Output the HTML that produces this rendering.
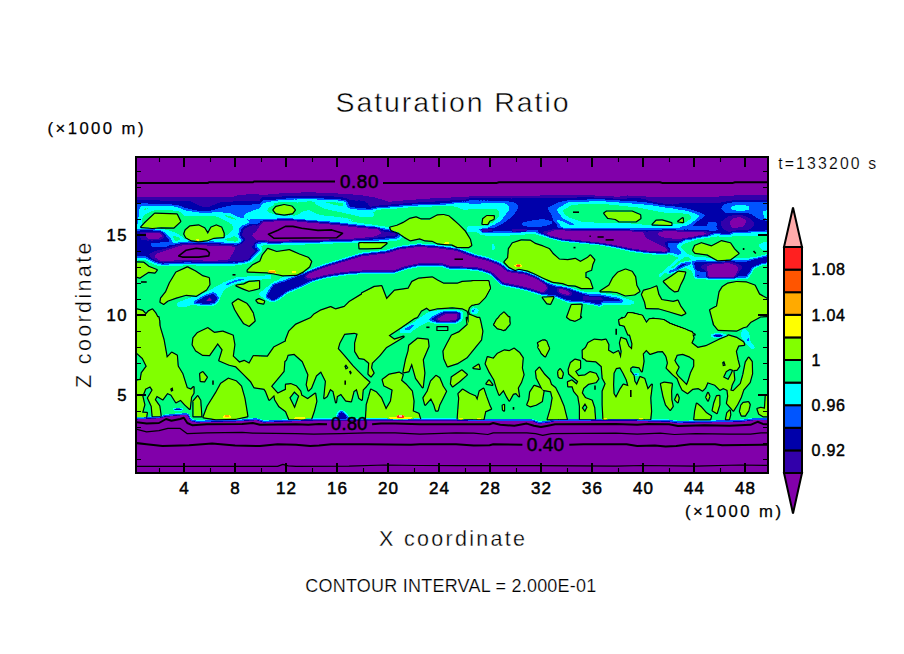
<!DOCTYPE html>
<html><head><meta charset="utf-8"><title>Saturation Ratio</title>
<style>
html,body{margin:0;padding:0;background:#fff;overflow:hidden}
svg{display:block}
text{font-family:"Liberation Sans",sans-serif;fill:#000}
</style></head><body>
<svg width="904" height="654" viewBox="0 0 904 654">
<defs>
<filter id="disc" filterUnits="userSpaceOnUse" x="100" y="120" width="700" height="390" color-interpolation-filters="sRGB"><feComponentTransfer><feFuncR type="discrete" tableValues="0.5098 0.1961 0.0000 0.0000 0.0000 0.0000 0.5098 1.0000 1.0000 1.0000 1.0000 1.0000"/><feFuncG type="discrete" tableValues="0.0000 0.0000 0.0000 0.3333 1.0000 1.0000 1.0000 1.0000 0.6667 0.3333 0.1255 0.6667"/><feFuncB type="discrete" tableValues="0.6667 0.6667 0.6667 1.0000 1.0000 0.5098 0.0000 0.0000 0.0000 0.0000 0.1255 0.6667"/></feComponentTransfer></filter>
<filter id="b07" filterUnits="userSpaceOnUse" x="60" y="80" width="780" height="470" color-interpolation-filters="sRGB"><feGaussianBlur stdDeviation="0.7"/></filter>
<filter id="b12" filterUnits="userSpaceOnUse" x="60" y="80" width="780" height="470" color-interpolation-filters="sRGB"><feGaussianBlur stdDeviation="1.2"/></filter>
<filter id="b05" filterUnits="userSpaceOnUse" x="60" y="80" width="780" height="470" color-interpolation-filters="sRGB"><feGaussianBlur stdDeviation="0.6"/></filter>
<filter id="b1" filterUnits="userSpaceOnUse" x="60" y="80" width="780" height="470" color-interpolation-filters="sRGB"><feGaussianBlur stdDeviation="1.0"/></filter>
<filter id="b15" filterUnits="userSpaceOnUse" x="60" y="80" width="780" height="470" color-interpolation-filters="sRGB"><feGaussianBlur stdDeviation="1.5"/></filter>
<filter id="b2" filterUnits="userSpaceOnUse" x="60" y="80" width="780" height="470" color-interpolation-filters="sRGB"><feGaussianBlur stdDeviation="2.0"/></filter>
<filter id="b3" filterUnits="userSpaceOnUse" x="60" y="80" width="780" height="470" color-interpolation-filters="sRGB"><feGaussianBlur stdDeviation="3.0"/></filter>
<filter id="b4" filterUnits="userSpaceOnUse" x="60" y="80" width="780" height="470" color-interpolation-filters="sRGB"><feGaussianBlur stdDeviation="4.0"/></filter>
<clipPath id="plot"><rect x="137" y="158" width="630" height="314"/></clipPath>
<clipPath id="oc"><polygon points="132.5,418.2 143.1,417.8 159.0,416.9 166.1,415.2 182.0,413.9 187.3,413.9 190.9,419.6 196.2,421.0 242.2,419.9 256.4,418.7 263.4,421.0 296.0,419.9 313.7,419.2 456.0,419.2 473.7,419.9 532.1,419.9 539.2,422.2 548.0,421.4 555.1,419.9 616.0,419.6 633.7,419.6 669.1,420.5 677.9,421.7 704.5,421.0 739.9,420.5 754.1,418.7 775.3,418.7 800,100 100,100"/></clipPath>
</defs>
<rect width="904" height="654" fill="#fff"/>
<defs><g id="yb">
<polygon points="141.3,227.0 144.8,223.2 154.8,213.8 176.8,214.5 180.2,221.4 173.6,227.6 161.1,227.3 152.3,227.9"/>
<polygon points="184.3,233.9 185.6,230.2 190.0,226.4 198.7,225.5 204.4,228.3 207.8,233.9 211.3,227.6 216.3,225.5 221.3,227.6 223.6,233.3 223.6,237.1 213.8,237.7 207.5,240.2 198.7,241.2 191.2,240.2 186.2,237.4"/>
<polygon points="273.5,210.1 276.0,206.9 284.1,205.1 291.7,206.6 294.8,210.1 292.3,213.2 284.1,214.5 276.0,213.2"/>
<polygon points="247.7,270.3 252.8,265.3 260.3,261.5 262.8,255.2 267.8,249.0 276.6,252.1 289.2,250.2 299.2,254.6 308.0,257.8 311.1,261.5 309.2,266.5 303.0,271.6 296.7,274.7 282.9,275.3 274.1,273.4 266.6,272.2 247.7,271.6"/>
<polygon points="359.4,244.0 363.2,243.3 363.2,247.7 360.0,247.1"/>
<polygon points="134.7,262.4 143.5,262.8 148.5,266.8 156.7,270.0 154.8,272.5 148.5,271.8 143.5,275.0 139.8,277.5 134.7,276.2"/>
<polygon points="160.5,302.0 161.1,298.2 166.1,291.9 169.9,283.1 176.2,272.5 187.4,267.4 195.0,271.2 202.5,276.2 208.8,278.1 209.4,284.4 206.3,289.4 196.2,295.7 186.2,294.7 176.2,297.6 167.4,300.7 163.6,303.8"/>
<polygon points="134.7,308.9 142.3,310.7 146.0,314.5 148.5,311.4 152.3,309.5 155.4,313.2 159.2,320.8 159.2,333.3 134.7,333.3"/>
<polygon points="236.5,285.6 244.0,284.4 249.0,281.9 259.0,281.2 259.0,288.2 249.0,290.7 244.0,288.8"/>
<polygon points="256.5,300.4 259.0,299.2 264.1,301.3 263.4,303.5 258.4,302.6"/>
<polygon points="232.7,303.2 238.0,299.4 246.5,303.8 249.0,307.0 252.8,313.2 254.6,320.8 249.0,325.8 244.0,323.3 239.0,315.8 235.2,309.5"/>
<polygon points="359.5,243.3 386.5,243.3 380.8,247.7 367.0,248.3 359.5,248.3"/>
<polygon points="390.2,227.6 391.5,230.2 398.4,232.7 404.7,237.1 410.3,240.2 419.7,238.3 424.7,240.2 432.3,240.8 437.3,243.3 443.6,244.0 452.3,244.6 457.4,247.1 468.6,247.1 471.2,245.2 469.9,239.6 464.9,231.4 458.6,225.1 452.3,219.5 448.6,216.3 443.6,215.1 437.3,215.5 429.8,219.5 421.0,219.5 416.0,217.4 409.7,218.9 403.4,222.9 397.1,225.8"/>
<polygon points="482.5,223.9 483.2,218.9 486.9,216.1 493.8,216.3 493.6,218.9 489.4,220.7 487.5,224.1"/>
<polygon points="504.5,262.1 508.2,257.8 508.9,249.0 512.6,243.3 521.4,240.4 530.2,240.8 535.2,244.0 542.8,246.5 549.0,249.0 552.8,254.0 559.1,259.6 567.8,260.3 575.4,259.0 580.4,262.1 587.9,257.8 590.4,255.5 594.2,259.9 592.3,264.3 591.1,269.9 587.9,270.9 585.4,272.2 585.4,277.8 587.9,278.5 589.8,280.6 592.3,288.1 587.9,288.1 581.6,288.1 575.4,285.6 567.8,285.0 562.8,283.1 552.8,281.8 542.8,277.5 535.2,273.7 527.7,270.6 518.9,268.7 515.2,269.9 508.9,266.8"/>
<polygon points="604.3,213.2 606.8,211.6 631.9,211.6 640.1,215.1 640.4,218.2 635.7,221.4 619.4,221.4 615.6,218.9 608.1,217.9"/>
<polygon points="652.6,224.5 656.4,220.7 662.0,220.5 671.4,223.2 671.4,224.9"/>
<polygon points="678.3,221.4 682.7,218.2 683.0,222.0"/>
<polygon points="693.2,250.2 695.1,245.8 701.4,243.3 711.4,246.5 721.4,241.2 730.2,243.3 734.0,249.0 738.4,253.4 730.2,259.6 717.7,260.3 707.6,254.6 695.1,252.7"/>
<polygon points="472.5,281.2 488.2,281.2 489.8,288.2 485.0,296.9 478.8,303.2 472.5,304.5"/>
<polygon points="472.5,317.6 478.8,320.8 481.3,333.3 472.5,333.3"/>
<polygon points="494.4,324.5 500.1,315.8 503.9,312.6 507.6,316.4 509.5,323.3 505.1,329.6 497.6,328.3"/>
<polygon points="542.8,297.6 553.4,297.3 550.3,303.8 547.1,303.2"/>
<polygon points="567.2,317.0 571.6,305.1 581.6,304.7 579.8,318.3 575.4,320.5 570.4,319.5"/>
<polygon points="600.5,291.3 609.3,285.6 613.1,278.1 618.1,272.5 625.6,269.6 631.9,271.8 635.1,276.9 636.3,285.6 639.4,291.3 634.4,294.4 625.6,295.4 616.9,291.9 609.3,291.3"/>
<polygon points="642.0,294.4 643.8,290.7 650.7,288.8 656.4,286.6 658.3,294.4 661.4,300.1 673.3,302.0 677.7,300.7 680.2,306.3 685.2,313.2 681.5,315.1 669.6,311.4 658.3,308.2 646.3,308.0 645.1,302.0"/>
<polygon points="663.9,281.6 670.8,276.9 678.3,271.8 685.2,272.5 683.4,278.1 680.2,284.4 677.7,290.7 674.6,291.3 669.6,287.5"/>
<polygon points="619.4,320.1 625.6,317.6 628.2,313.2 632.5,313.5 642.0,315.8 646.3,323.3 649.5,319.5 653.2,318.9 663.3,320.1 669.6,323.9 675.8,326.4 685.9,330.1 694.6,334.6 628.2,334.6 624.4,325.2 620.0,324.5"/>
<polygon points="710.2,310.1 717.1,306.3 719.6,291.9 722.7,286.9 727.7,283.8 736.5,282.1 746.5,282.5 754.7,285.6 759.1,294.4 770.4,300.7 770.4,315.8 760.3,316.4 750.3,322.0 746.5,326.4 743.3,327.2 736.7,330.5 718.3,329.7 714.2,324.7 712.5,318.8 713.9,324.5 712.7,319.5"/>
<polygon points="667.5,323.3 680.0,327.7 686.3,330.1 688.8,335.8 667.5,335.8"/>
<polygon points="134.3,317.2 158.5,317.2 159.3,325.5 163.5,339.7 166.8,358.0 171.8,352.7 176.8,355.5 177.7,366.3 182.3,373.8 186.8,388.0 191.0,389.7 193.5,387.2 193.5,393.0 191.0,397.2 189.7,408.8 185.2,404.7 180.7,399.7 176.0,402.2 171.3,394.7 167.3,393.0 162.7,399.3 156.8,395.7 154.7,399.7 159.3,406.3 160.7,416.3 152.7,416.3 151.8,406.3 148.0,398.0 152.7,390.0 150.2,386.3 145.2,388.8 142.3,396.3 144.3,404.7 141.8,413.8 134.3,416.3"/>
<polygon points="134.3,412.2 146.8,413.0 146.0,417.7 134.3,417.7"/>
<polygon points="200.2,373.8 202.7,372.2 206.8,377.2 204.3,381.3 200.7,381.0"/>
<polygon points="193.5,416.3 193.5,401.3 197.7,396.3 200.2,400.5 201.3,416.3"/>
<polygon points="203.5,417.2 207.7,406.3 216.0,393.0 221.0,383.8 228.5,378.8 236.0,381.3 241.0,386.3 244.3,398.0 246.0,408.0 247.3,416.3 236.0,418.7 216.0,419.3"/>
<polygon points="192.7,344.7 193.5,338.0 197.7,333.0 207.7,328.3 214.3,333.0 222.7,331.7 232.7,335.5 234.3,344.7 232.7,356.3 239.3,362.7 244.3,361.0 249.3,363.8 253.5,356.3 267.7,356.7 274.3,347.2 286.0,341.3 286.0,339.7 289.3,331.3 296.0,324.7 311.0,318.0 314.2,314.5 320.5,310.7 330.6,307.2 335.6,309.5 344.4,307.0 349.4,302.0 361.9,294.4 362.0,293.2 374.5,286.9 381.4,286.3 386.5,299.4 394.6,290.7 408.4,288.8 412.2,281.9 418.5,278.7 432.3,277.5 437.3,280.6 443.6,283.8 457.4,283.8 462.4,281.9 474.9,281.2 475.0,281.2 488.2,281.2 489.8,288.2 485.0,296.9 478.8,303.2 471.8,304.7 468.9,307.4 467.9,311.0 468.6,314.4 472.6,316.0 477.2,317.9 479.3,318.0 480.2,321.3 482.3,331.3 481.0,339.7 474.3,348.0 466.8,357.2 457.7,363.0 447.7,366.3 444.3,358.8 443.5,351.3 447.7,343.0 451.8,335.5 459.3,332.2 467.7,324.7 466.8,318.0 468.6,323.3 468.6,313.2 467.4,310.7 462.4,308.2 452.3,307.2 437.3,308.2 429.8,310.1 426.6,307.6 421.0,310.7 417.2,317.0 414.3,318.0 401.0,327.2 388.5,335.5 394.3,339.7 403.5,336.7 396.0,341.3 386.0,347.2 379.3,355.5 371.8,363.0 371.0,368.0 373.5,373.0 371.0,376.3 368.5,373.8 369.3,363.0 364.3,358.8 359.3,358.0 355.2,351.3 355.2,343.0 357.7,333.8 354.3,332.7 344.3,333.8 339.3,343.0 337.7,348.8 344.3,356.3 352.7,366.3 359.3,373.0 364.3,378.0 369.3,382.2 366.0,386.3 362.7,389.7 361.8,399.7 359.3,398.0 356.8,388.8 353.5,391.3 351.0,401.3 346.0,400.5 341.0,393.8 336.8,396.3 336.0,402.2 333.5,391.3 330.2,388.8 326.8,396.3 324.3,398.0 326.0,381.3 321.0,371.3 316.0,375.5 311.0,388.0 308.5,390.5 306.8,384.7 308.5,374.7 302.7,361.3 294.3,353.8 287.7,354.7 286.0,359.7 286.0,359.7 284.3,361.3 283.5,371.3 271.0,386.3 277.7,393.8 286.0,389.7 286.0,384.7 291.0,384.3 296.0,386.3 300.2,391.3 301.3,395.5 307.7,399.2 315.2,393.8 316.3,401.3 314.0,410.5 311.0,419.3 289.3,419.3 286.0,411.3 286.0,411.3 279.3,406.3 275.2,399.7 274.3,394.7 269.3,399.7 266.0,391.3 264.3,388.8 254.3,387.2 251.0,381.3 242.7,373.0 236.0,366.3 229.3,364.7 219.3,360.5 222.7,349.7 217.7,343.0 209.3,355.0 202.7,354.7 196.0,350.5"/>
<polygon points="409.3,345.5 417.7,338.8 427.7,339.7 428.5,346.3 422.7,359.7 424.3,373.0 422.7,387.2 416.0,378.0 411.8,363.0 408.5,371.3 403.5,372.2 406.0,359.7 408.5,351.3"/>
<polygon points="366.0,419.3 366.8,404.7 369.3,396.3 371.0,389.7 376.0,392.2 381.0,398.0 386.0,409.7 391.0,401.3 392.7,389.7 384.3,385.5 382.7,379.7 389.3,374.7 399.3,372.7 402.7,374.7 401.0,380.5 406.0,384.7 411.8,391.3 413.5,401.3 412.7,411.3 418.5,413.8 420.2,419.3"/>
<polygon points="431.0,381.3 436.0,376.0 439.3,378.0 442.7,386.3 446.0,391.3 442.7,398.0 439.3,404.7 437.7,410.5 436.0,410.5 434.3,404.7 431.0,398.0 425.2,404.7 423.5,398.0 427.7,391.3"/>
<polygon points="494.3,324.7 496.8,319.7 500.2,317.2 509.3,317.2 509.3,324.7 503.5,330.0 498.5,328.0"/>
<polygon points="451.0,383.8 451.8,377.2 461.8,370.5 466.8,374.7 459.3,381.3 452.7,386.3"/>
<polygon points="473.5,368.0 478.5,364.7 479.7,368.8"/>
<polygon points="486.5,383.8 489.0,380.5 492.3,384.7"/>
<polygon points="485.7,363.8 487.7,357.2 493.5,358.8 497.7,353.8 504.3,350.5 509.3,351.3 514.0,348.8 519.3,353.0 522.7,358.0 521.8,368.0 523.5,374.7 521.0,382.2 517.7,388.0 519.0,396.3 516.0,393.0 513.0,393.8 509.3,400.5 506.8,396.3 503.5,389.7 499.3,394.7 496.8,388.0 494.3,379.7 489.3,371.3"/>
<polygon points="457.7,419.3 458.5,408.0 459.3,398.0 458.5,393.8 462.7,389.7 469.3,393.8 475.2,396.3 477.3,400.5 479.7,391.3 483.5,388.8 486.0,396.3 489.7,406.3 491.0,408.8 485.2,411.3 483.5,419.3"/>
<polygon points="538.0,343.0 542.7,340.5 546.3,341.3 549.0,348.8 545.2,356.3 541.8,353.0"/>
<polygon points="527.3,404.7 529.3,399.7 530.2,392.2 534.3,386.0 540.2,388.0 543.5,391.3 541.8,401.3 536.0,404.7 530.2,406.3"/>
<polygon points="536.0,371.3 539.3,367.7 544.3,374.7 549.3,379.7 551.0,384.7 555.2,388.0 559.3,396.3 563.5,406.3 566.8,419.3 547.7,419.3 551.0,408.0 552.7,398.0 551.0,391.3 542.7,389.7 540.2,384.7 536.8,378.0"/>
<polygon points="558.5,371.3 560.2,369.3 562.7,373.0 561.8,377.7 559.3,377.2"/>
<polygon points="582.7,350.5 586.0,348.0 588.0,351.3 586.8,358.8 583.0,358.0"/>
<polygon points="567.7,317.2 574.3,320.5 581.0,317.2"/>
<polygon points="502.7,405.5 504.0,405.0 504.0,410.5 503.0,409.7"/>
<polygon points="568.7,369.7 570.8,363.0 575.0,359.7 580.0,361.0 580.0,368.0 575.0,371.3 578.3,376.3 585.0,375.5 590.0,372.2 595.8,373.8 598.3,378.8 595.8,382.2 588.3,383.8 583.3,388.0 581.7,393.0 585.0,398.0 591.7,400.5 594.2,408.0 595.0,419.3 580.0,419.3 580.0,406.3 578.3,396.3 574.2,391.3 572.5,386.3 568.3,386.3 568.0,382.2 571.7,380.5 576.7,384.7 578.3,381.3 573.3,377.2 569.2,373.8"/>
<polygon points="538.3,347.2 540.0,342.2 545.0,340.5 548.3,347.2 545.0,356.0 541.7,353.0"/>
<polygon points="558.3,373.0 560.0,369.7 562.5,374.7 560.8,377.7 558.7,376.7"/>
<polygon points="583.0,357.2 585.0,349.7 588.3,343.0 594.2,339.7 601.7,340.5 605.8,339.7 608.3,344.7 608.0,350.5 613.3,353.8 618.3,351.3 620.8,358.8 621.7,351.3 620.0,343.0 621.3,338.0 625.8,339.7 628.3,346.3 632.0,349.7 632.5,343.8 630.0,334.7 626.7,326.3 620.8,324.7 620.0,320.5 622.0,318.0 620.0,324.5 619.4,320.1 625.6,317.6 628.2,313.2 632.5,313.5 642.0,315.8 646.3,323.3 649.5,319.5 653.2,318.9 663.3,320.1 669.6,323.9 675.8,326.4 685.9,330.1 691.8,332.2 693.5,338.0 691.3,343.0 697.7,348.0 706.0,346.3 719.3,339.7 727.7,336.3 728.3,335.5 736.7,338.0 743.3,342.2 744.2,344.7 738.3,345.5 735.8,351.3 737.5,359.7 739.2,366.3 736.7,369.7 733.3,370.0 734.2,379.7 731.7,384.7 730.3,390.5 733.3,391.3 740.8,383.8 743.3,374.7 745.8,362.2 748.7,357.7 751.7,361.7 752.0,373.8 749.7,382.2 743.3,389.7 740.8,397.2 737.0,404.7 733.3,410.5 727.0,403.3 728.3,396.3 727.5,390.0 723.3,388.0 720.0,389.7 715.0,384.7 707.5,382.2 705.0,388.0 702.5,390.5 698.3,388.0 692.5,388.8 687.5,393.0 682.5,389.7 680.0,384.7 677.5,378.3 673.3,374.7 670.0,371.3 666.7,368.0 668.0,363.0 666.7,357.2 666.0,355.5 662.7,351.0 657.7,351.3 650.2,353.8 646.3,349.7 642.7,353.8 643.5,361.3 641.8,371.3 639.3,367.2 632.7,366.3 630.2,368.0 630.2,371.3 633.5,375.5 634.3,381.3 636.8,385.5 640.2,377.2 644.3,378.8 647.7,389.7 651.8,384.7 650.2,398.0 651.0,411.3 650.2,419.3 603.5,419.3 602.7,404.7 602.7,391.3 605.7,383.8 602.7,378.0 601.8,366.3 596.0,361.3 586.7,360.5"/>
<polygon points="661.0,383.8 664.3,382.7 671.8,383.8 671.0,391.3 671.3,399.7 672.7,406.3 670.2,409.7 666.0,404.7 663.5,396.3 661.8,388.0"/>
<polygon points="675.2,399.7 677.3,394.7 678.7,398.0 677.7,402.2"/>
<polygon points="694.3,419.3 695.2,411.3 696.8,403.8 701.0,407.2 706.0,413.0 711.0,416.3 710.2,419.3"/>
<polygon points="706.3,397.2 708.0,393.0 709.3,396.3 708.0,400.5"/>
<polygon points="712.7,410.5 714.3,403.0 716.8,396.3 719.3,396.0 719.3,404.7 716.8,413.0"/>
<polygon points="726.0,419.3 727.3,413.0 729.7,410.5 730.2,414.7 729.0,419.3"/>
<polygon points="740.0,411.3 741.3,405.5 743.3,403.0 748.3,402.2 749.7,404.7 748.3,410.5 745.0,415.5 741.7,415.5"/>
<polygon points="757.5,408.8 760.8,408.0 765.0,408.8 765.8,395.5 770.0,395.5 770.0,416.3 763.3,416.3 759.2,413.8"/>
</g><g id="yh">
<polygon points="134.3,350.5 142.7,358.0 146.8,366.3 141.8,373.0 140.7,380.0 134.3,381.0"/>
<polygon points="170.2,388.8 172.7,387.2 173.3,390.7 171.0,391.7"/>
<polygon points="289.3,397.7 294.3,391.3 299.3,396.0 294.7,408.8"/>
<polygon points="344.3,366.3 346.0,364.3 348.5,368.0 345.7,369.7"/>
<polygon points="349.0,371.3 350.7,370.5 351.8,373.0 350.2,374.7"/>
<polygon points="581.7,408.0 585.0,403.0 587.5,407.2 585.0,412.2"/>
<polygon points="613.5,373.0 616.0,368.0 620.2,367.2 623.5,373.0 626.8,379.7 628.5,386.3 623.5,384.7 620.2,389.7 616.0,398.0 613.5,393.8 613.0,384.7"/>
<polygon points="674.3,360.5 676.8,354.7 682.7,353.8 689.3,356.3 694.3,359.7 694.3,366.3 691.0,373.0 688.5,381.3 686.8,385.5 682.7,381.3 677.7,376.3 675.7,373.0 678.5,367.2 676.0,363.8"/>
<polygon points="723.0,377.2 725.8,371.3 730.0,368.8 733.3,370.0 731.7,373.8 728.3,380.0"/>
<polygon points="722.2,362.2 724.2,361.0 725.8,365.5 722.8,366.3"/>
</g>
<mask id="om" maskUnits="userSpaceOnUse" x="100" y="120" width="700" height="390"><rect x="100" y="120" width="700" height="390" fill="#fff"/><use href="#yb" fill="#000"/><use href="#yh" fill="#fff"/></mask>
</defs>
<g clip-path="url(#plot)">
<g filter="url(#disc)">
<rect x="100" y="120" width="700" height="390" fill="#757575"/>
<g filter="url(#b3)">
<polygon points="100,120 800,120 800.0,201.1 767.0,201.1 745.0,200.5 720.0,202.5 695.0,204.3 663.0,203.7 626.0,201.8 588.0,199.9 530.0,200.7 475.0,201.1 437.0,202.8 412.0,204.5 387.0,206.5 375.0,203.5 362.0,200.8 336.0,198.0 311.0,197.0 286.0,197.5 261.0,200.0 236.0,202.5 198.0,205.0 136.0,202.5 100.0,202.5" fill="#0b0b0b"/>
</g>
<g filter="url(#b12)">
<polygon points="100,120 800,120 800.0,202.1 767.0,202.1 745.0,201.5 720.0,203.5 695.0,205.3 663.0,204.7 626.0,202.8 588.0,200.9 530.0,201.7 475.0,202.1 437.0,203.8 412.0,205.5 387.0,207.5 375.0,204.5 362.0,201.8 336.0,199.0 311.0,198.0 286.0,198.5 261.0,201.0 236.0,203.5 198.0,206.0 136.0,203.5 100.0,203.5" fill="#353535"/>
<polygon points="100,120 800,120 800.0,199.6 767.0,199.6 745.0,199.0 720.0,201.0 695.0,202.8 663.0,202.2 626.0,200.3 588.0,198.4 530.0,199.2 475.0,199.6 437.0,201.3 412.0,203.0 387.0,205.0 375.0,202.0 362.0,199.3 336.0,196.5 311.0,195.5 286.0,196.0 261.0,198.5 236.0,201.0 198.0,203.5 136.0,201.0 100.0,201.0" fill="#202020"/>
<polygon points="100,120 800,120 800.0,196.4 767.0,196.4 745.0,195.8 720.0,197.8 695.0,199.6 663.0,199.0 626.0,197.1 588.0,195.2 530.0,196.0 475.0,196.4 437.0,198.1 412.0,199.8 387.0,201.8 375.0,198.8 362.0,196.1 336.0,193.3 311.0,192.3 286.0,192.8 261.0,195.3 236.0,197.8 198.0,200.3 136.0,197.8 100.0,197.8" fill="#0b0b0b"/>
</g>
<g filter="url(#b2)">
<polygon points="131.0,203.8 142.3,204.4 139.8,212.6 141.6,221.4 139.8,227.6 131.0,227.6" fill="#4a4a4a"/>
<polygon points="236.5,196.3 261.5,195.6 256.5,199.4 249.0,202.5 236.5,203.8" fill="#353535"/>
<polygon points="236.5,202.5 249.0,202.5 264.1,198.8 274.1,198.8 256.5,206.3 249.0,210.7 236.5,211.3" fill="#4a4a4a"/>
<polygon points="346.9,195.0 374.5,197.5 388.3,201.9 380.8,206.3 369.5,210.1 346.9,211.3" fill="#202020"/>
<polygon points="346.9,200.0 364.5,200.7 370.2,205.1 367.0,208.8 346.9,210.1" fill="#353535"/>
<polygon points="468.7,198.8 512.6,198.8 556.6,198.2 594.2,196.9 594.2,200.0 562.8,201.3 552.8,208.8 555.3,220.1 562.8,227.6 545.3,231.4 527.7,232.0 512.6,233.3 481.3,233.3 477.5,229.5 493.8,225.1 511.4,215.1 517.7,205.1 506.4,201.9 468.7,202.5" fill="#353535"/>
<polygon points="619.4,196.9 650.7,197.5 707.2,197.5 707.2,212.0 688.4,210.1 668.3,208.8 647.0,208.8 635.7,203.8" fill="#353535"/>
<polygon points="642.0,197.8 707.2,197.8 707.2,207.6 675.8,204.8 658.3,207.8 650.7,203.2" fill="#202020"/>
<polygon points="677.5,198.8 770.4,195.0 770.4,232.7 745.3,232.7 720.2,231.4 711.4,228.3 682.5,228.3 677.5,215.1" fill="#353535"/>
<polygon points="663.7,198.8 722.7,196.9 770.4,195.6 770.4,201.9 732.7,201.9 707.6,203.2 663.7,202.5" fill="#202020"/>
<polygon points="139.8,212.6 154.8,206.9 179.9,207.6 187.4,213.8 216.3,214.5 240.1,221.4 248.3,225.8 237.6,235.2 223.8,239.2 206.3,242.7 186.2,241.4 172.4,233.9 161.1,229.9 139.8,229.9 137.3,221.4" fill="#606060"/>
<polygon points="357.0,211.3 387.1,208.8 412.2,206.6 449.8,207.6 462.4,210.1 487.5,212.0 487.5,230.2 474.9,227.6 449.8,225.1 399.6,220.1 362.0,218.9 354.5,215.1" fill="#757575"/>
<polygon points="131.0,230.2 151.1,229.5 168.6,235.2 173.6,242.7 161.1,249.0 151.1,257.8 131.0,258.4" fill="#353535"/>
<polygon points="146.0,255.2 177.4,243.3 213.8,242.7 248.9,245.2 261.5,249.0 248.9,260.3 231.4,263.4 186.2,262.8 161.1,264.0 149.8,260.3" fill="#202020"/>
<polygon points="241.5,227.6 256.5,220.1 286.6,218.2 311.7,220.7 336.8,222.9 374.5,227.6 399.6,231.4 399.6,237.7 374.5,240.2 336.8,240.8 311.7,241.7 274.1,242.7 249.0,242.7 239.0,237.7" fill="#202020"/>
</g>
<g filter="url(#b15)">
<polygon points="129.7,197.5 261.5,197.5 261.5,225.1 255.2,224.5 242.6,219.9 230.1,214.2 217.6,213.0 206.3,213.6 186.2,211.6 173.6,205.1 129.7,205.3" fill="#4a4a4a"/>
<polygon points="129.7,197.5 261.5,197.5 261.5,204.1 230.1,205.4 217.6,208.6 206.3,212.3 198.7,211.6 186.2,208.2 173.6,203.6 129.7,202.5" fill="#353535"/>
<polygon points="129.7,196.9 261.5,196.9 261.5,200.7 231.4,201.5 221.3,201.9 213.8,204.8 206.3,207.8 198.7,205.3 190.0,201.0 173.6,200.8 129.7,200.3" fill="#202020"/>
<polygon points="518.9,223.6 529.0,220.7 542.8,219.1 554.0,221.4 550.3,225.1 537.7,227.4 525.2,226.6" fill="#4a4a4a"/>
<polygon points="720.2,208.8 724.0,203.8 735.2,201.3 770.4,201.3 770.4,221.4 760.3,220.1 750.3,213.8 740.3,212.6 726.5,213.8" fill="#4a4a4a"/>
<polygon points="720.2,222.6 729.0,215.7 740.3,214.5 750.3,218.2 755.3,225.1 747.8,230.8 730.2,231.4 722.7,228.9" fill="#202020"/>
<polygon points="707.6,221.4 717.7,221.4 716.4,227.6 707.6,228.3" fill="#4a4a4a"/>
<polygon points="143.5,215.1 154.8,210.1 178.7,210.7 184.9,216.3 216.3,216.6 230.1,222.9 234.5,227.6 228.2,234.5 222.6,237.1 206.3,240.4 186.2,239.2 174.9,232.0 161.1,228.3 143.5,228.3 141.0,221.4" fill="#757575"/>
<polygon points="246.5,213.2 267.8,205.1 299.2,200.7 324.3,203.2 355.6,208.8 374.5,212.6 374.5,221.4 324.3,219.5 286.6,218.2 249.0,219.5 241.5,217.0" fill="#606060"/>
<polygon points="266.6,208.8 280.4,203.2 311.7,202.5 324.3,208.8 341.8,212.6 361.9,217.0 374.5,217.0 374.5,221.4 343.1,217.4 319.3,215.1 309.2,210.1 303.0,211.6 296.7,215.5 280.4,215.5 267.8,212.6" fill="#757575"/>
<polygon points="449.8,202.5 487.5,202.5 487.5,210.1 462.4,209.4" fill="#606060"/>
<polygon points="467.5,200.0 506.4,200.7 516.4,203.8 512.6,212.6 503.9,222.6 488.8,229.5 467.5,231.4" fill="#4a4a4a"/>
<polygon points="467.5,203.8 506.4,203.2 510.1,208.8 500.1,221.4 487.5,227.6 467.5,228.9" fill="#606060"/>
<polygon points="467.5,208.8 497.6,208.8 500.1,215.1 493.8,222.6 482.5,226.4 467.5,226.4" fill="#757575"/>
<polygon points="546.5,207.6 565.3,200.7 600.5,198.8 650.7,202.5 688.3,208.8 707.1,215.1 688.3,227.6 650.7,228.9 600.5,227.6 570.4,226.4 555.3,218.9" fill="#4a4a4a"/>
<polygon points="555.9,209.4 567.8,202.5 600.5,201.0 650.7,205.1 688.3,211.1 700.8,215.7 688.3,225.8 650.7,227.0 600.5,225.8 575.4,224.5 562.8,218.2" fill="#606060"/>
<polygon points="561.6,210.7 572.9,204.4 600.5,203.6 638.1,207.6 663.2,212.6 688.3,213.8 692.7,217.6 683.3,223.9 650.7,225.8 625.6,222.9 600.5,222.9 581.6,222.0 567.8,217.0" fill="#757575"/>
<polygon points="138.5,231.4 161.1,231.2 165.5,235.8 159.8,240.2 141.0,240.2" fill="#202020"/>
<polygon points="149.8,242.4 169.9,242.1 168.6,246.5 151.1,247.1" fill="#4a4a4a"/>
<polygon points="154.8,254.0 179.9,245.2 188.7,243.7 211.3,245.2 231.4,245.8 240.1,247.7 242.6,250.2 231.4,255.2 228.8,260.3 211.3,261.5 186.2,260.3 161.1,261.8 154.8,257.8" fill="#0b0b0b"/>
<polygon points="236.4,246.5 243.9,240.2 249.6,231.4 256.5,227.6 256.5,242.7 251.4,249.0 248.9,260.3 236.4,262.1 231.4,255.2" fill="#202020"/>
<polygon points="257.8,294.4 270.3,284.4 284.1,276.2 299.2,275.0 303.0,280.6 286.6,291.9 274.1,301.3 267.8,300.7" fill="#606060"/>
<polygon points="535.2,232.0 555.3,228.3 587.9,228.9 644.4,229.9 675.8,229.5 707.1,230.2 732.2,231.4 732.2,240.2 688.3,240.2 673.2,245.2 670.7,252.7 650.7,252.7 631.8,250.2 600.5,243.3 562.8,240.2 550.3,237.1" fill="#202020"/>
<polygon points="690.1,261.2 713.9,259.9 735.2,258.7 750.3,261.8 770.4,256.2 770.4,263.7 752.8,268.1 750.3,273.7 720.2,275.0 701.4,273.7" fill="#353535"/>
<polygon points="664.8,242.6 677.2,241.8 679.0,247.1 684.3,254.2 677.2,255.9 671.0,253.3" fill="#4a4a4a"/>
<polygon points="692.6,262.1 707.6,259.6 740.3,260.3 750.3,265.3 747.8,277.8 695.1,277.8" fill="#353535"/>
<polygon points="677.5,246.5 685.1,238.3 707.6,234.2 770.4,233.3 770.4,260.3 745.3,260.3 720.2,262.1 695.1,260.3 685.1,254.0" fill="#606060"/>
<polygon points="683.8,246.5 690.1,240.2 710.2,236.7 770.4,235.8 770.4,257.8 745.3,257.8 720.2,259.6 697.6,257.8 690.1,252.7" fill="#757575"/>
<polygon points="583.0,291.9 600.5,292.5 619.4,296.3 637.6,302.6 629.4,305.1 606.8,304.5 583.0,303.8" fill="#606060"/>
</g>
<g filter="url(#b1)">
<ellipse cx="740.3" cy="207.9" rx="10" ry="3" fill="#606060"/>
<polygon points="762.8,210.7 770.4,210.1 770.4,219.5 764.1,218.2" fill="#606060"/>
<polygon points="729.0,223.2 732.7,218.2 740.3,217.0 746.5,220.7 744.0,226.4 732.7,228.3" fill="#0b0b0b"/>
<polygon points="144.8,233.3 159.8,232.7 163.0,235.8 158.6,238.9 147.3,238.7" fill="#0b0b0b"/>
<polygon points="256.5,231.4 261.5,222.0 286.6,219.9 311.7,222.2 336.8,224.5 361.9,227.4 378.2,228.3 382.0,233.3 374.5,236.7 349.4,239.8 311.7,240.8 274.1,241.4 256.5,240.2 251.5,235.2" fill="#0b0b0b"/>
<polyline points="267.8,296.3 274.1,285.6 286.6,281.9 299.2,276.6 308.0,273.1 324.3,266.8 361.9,255.5 387.1,252.4 399.6,248.6 418.5,246.1 437.3,247.4 456.1,249.9 475.0,256.8 487.5,259.9 500.1,264.9 507.6,271.2 525.2,273.7 535.2,277.5 545.3,283.8 556.6,287.5 567.8,289.4 587.9,296.3 600.0,300.0 600.0,304.0 587.9,300.7 567.8,299.7 555.3,294.7 542.8,293.2 529.0,288.8 518.9,286.3 502.6,283.1 497.0,277.5 491.3,272.5 482.5,269.3 475.0,267.8 449.8,266.8 443.6,264.3 421.0,263.7 405.9,266.8 393.4,271.2 362.0,271.2 343.1,272.8 324.3,275.9 311.7,279.6 299.2,285.6 286.6,290.7 277.9,296.9 272.8,299.4 267.8,296.3" fill="none" stroke="#353535" stroke-width="3.4" stroke-linecap="round" stroke-linejoin="round"/>
<polygon points="267.8,296.3 274.1,285.6 286.6,281.9 299.2,276.6 308.0,273.1 324.3,266.8 361.9,255.5 387.1,252.4 399.6,248.6 418.5,246.1 437.3,247.4 456.1,249.9 475.0,256.8 487.5,259.9 500.1,264.9 507.6,271.2 525.2,273.7 535.2,277.5 545.3,283.8 556.6,287.5 567.8,289.4 587.9,296.3 600.0,300.0 600.0,304.0 587.9,300.7 567.8,299.7 555.3,294.7 542.8,293.2 529.0,288.8 518.9,286.3 502.6,283.1 497.0,277.5 491.3,272.5 482.5,269.3 475.0,267.8 449.8,266.8 443.6,264.3 421.0,263.7 405.9,266.8 393.4,271.2 362.0,271.2 343.1,272.8 324.3,275.9 311.7,279.6 299.2,285.6 286.6,290.7 277.9,296.9 272.8,299.4" fill="#353535"/>
<polygon points="304.2,278.1 308.0,273.1 324.3,266.8 361.9,255.5 387.1,252.4 399.6,248.6 418.5,246.1 437.3,247.4 456.1,249.9 475.0,256.8 487.5,259.9 500.1,264.9 507.6,271.2 525.2,273.7 535.2,277.5 545.3,283.8 548.4,288.2 542.8,293.2 529.0,288.8 518.9,286.3 502.6,283.1 497.0,277.5 491.3,272.5 482.5,269.3 475.0,267.8 449.8,266.8 443.6,264.3 421.0,263.7 405.9,266.8 393.4,271.2 362.0,271.2 343.1,272.8 324.3,275.9 311.7,279.6" fill="#0b0b0b"/>
<polygon points="556.6,290.0 560.3,287.5 567.8,290.4 572.9,293.8 567.8,295.7 560.3,293.8" fill="#0b0b0b"/>
<polygon points="545.3,232.9 555.3,229.9 587.9,230.4 613.0,229.9 643.1,231.7 645.6,237.7 658.2,244.0 668.2,249.0 665.7,252.5 650.7,251.5 631.8,249.0 613.0,245.2 587.9,242.1 562.8,239.2 550.3,236.2" fill="#0b0b0b"/>
<polygon points="655.8,233.7 663.3,230.8 700.9,231.7 708.5,232.7 712.2,235.4 708.5,238.7 700.9,238.3 675.8,238.7 663.3,237.4" fill="#0b0b0b"/>
<polygon points="698.9,266.8 707.6,263.1 732.7,262.1 743.4,266.8 737.8,272.5 710.2,272.8" fill="#202020"/>
<polygon points="707.0,267.4 713.9,263.7 729.0,262.8 738.4,266.8 735.2,271.2 720.2,272.5 710.2,271.8" fill="#0b0b0b"/>
<polygon points="756.6,269.3 770.4,263.1 770.4,276.2" fill="#757575"/>
<polygon points="745.3,261.2 767.2,255.3 771.6,254.3 771.6,261.6 757.8,264.1 750.3,265.6" fill="#353535"/>
<polygon points="686.1,241.8 696.7,238.6 719.8,235.5 719.8,260.4 706.5,257.9 693.2,257.0 686.1,253.7 679.9,246.6" fill="#757575"/>
<polyline points="719.8,234.7 696.7,238.2 686.1,241.8 681.7,243.5 678.1,246.2 685.2,254.2 693.2,257.7 706.5,258.6 719.8,261.3" fill="none" stroke="#606060" stroke-width="2.4" stroke-linecap="round" stroke-linejoin="round"/>
<polyline points="685.2,255.2 677.2,260.4 669.3,267.5 659.5,275.9" fill="none" stroke="#606060" stroke-width="2.6" stroke-linecap="round" stroke-linejoin="round"/>
<polyline points="681.7,266.8 687.9,267.5 695.0,271.9 700.3,273.7 719.8,274.2" fill="none" stroke="#606060" stroke-width="2.2" stroke-linecap="round" stroke-linejoin="round"/>
<polygon points="690.5,261.7 681.7,263.0 673.7,269.2 665.7,272.3 670.1,273.0 679.0,269.4 684.3,265.9 690.5,265.0" fill="#353535"/>
<polygon points="706.4,266.5 713.9,264.0 732.7,264.3 739.0,268.4 735.2,277.8 707.6,277.8" fill="#0b0b0b"/>
<polygon points="757.8,245.2 765.4,241.4 770.4,241.4 770.4,250.2 762.8,250.2" fill="#606060"/>
<polygon points="755.3,267.8 762.8,264.0 770.4,263.4 770.4,277.8 752.8,277.8" fill="#757575"/>
<polygon points="583.0,294.7 600.5,295.1 619.4,298.8 624.4,302.0 606.8,302.2 583.0,301.7" fill="#353535"/>
<polygon points="176.2,303.2 188.7,298.2 206.3,291.9 223.8,282.5 236.4,277.5 248.9,276.6 271.5,275.0 271.5,278.7 248.9,280.0 236.4,283.1 223.8,289.4 220.1,298.2 216.3,304.5 206.3,306.0 192.5,304.5 186.2,307.0 177.4,307.0" fill="#606060"/>
<polygon points="192.5,303.2 203.8,296.3 213.8,292.5 218.8,298.2 215.0,303.8 206.3,305.1" fill="#353535"/>
<polygon points="223.8,284.4 236.4,279.4 248.9,277.9 248.9,279.4 236.4,281.9 226.3,285.6" fill="#4a4a4a"/>
<polygon points="399.6,330.1 412.2,323.3 424.7,314.5 429.8,311.4 442.3,310.1 462.4,310.7 463.6,318.3 458.6,323.3 442.3,323.9 427.2,322.0 416.0,328.3 409.7,333.3 399.6,333.3" fill="#606060"/>
<polygon points="428.5,319.5 442.3,312.0 459.9,312.0 461.1,318.3 456.1,322.3 437.3,322.7" fill="#353535"/>
<polygon points="436.0,318.9 444.8,313.2 458.6,313.5 458.0,318.9 453.6,321.4 438.5,321.4" fill="#0b0b0b"/>
<polygon points="400.9,330.1 412.2,324.5 416.0,323.9 409.7,330.1" fill="#4a4a4a"/>
</g>
<g filter="url(#b05)">
<use href="#yb" fill="#8a8a8a"/>
</g>
<g filter="url(#b05)">
<use href="#yh" fill="#757575"/>
</g>
<g filter="url(#b1)">
<polygon points="470.5,311 472,307.5 476,307.5 479.5,310.5 476,314 472.5,314.5" fill="#606060"/>
<polygon points="741.3,330.5 745.0,328.8 749.2,333.0 750.8,343.0 755.0,346.3 754.2,349.7 750.0,348.0 745.8,343.0 741.7,338.0" fill="#606060"/>
<polygon points="336,421 338,413 341,410.5 345,413 349,418 351,421" fill="#353535"/>
</g>
<g filter="url(#b07)">
<polyline points="132.5,418.7 143.1,418.4 159.0,417.5 166.1,415.7 182.0,414.5 187.3,414.5 190.9,420.1 196.2,421.6 242.2,420.5 256.4,419.3 263.4,421.6 296.0,420.5 313.7,419.8 456.0,419.8 473.7,420.5 532.1,420.5 539.2,422.8 548.0,421.9 555.1,420.5 616.0,420.1 633.7,420.1 669.1,421.0 677.9,422.3 704.5,421.6 739.9,421.0 754.1,419.3 775.3,419.3" fill="none" stroke="#4a4a4a" stroke-width="2.4" stroke-linecap="round" stroke-linejoin="round"/>
<polygon points="132.5,419.4 143.1,419.0 159.0,418.1 166.1,416.4 182.0,415.1 187.3,415.1 190.9,420.8 196.2,422.2 242.2,421.1 256.4,419.9 263.4,422.2 296.0,421.1 313.7,420.4 456.0,420.4 473.7,421.1 532.1,421.1 539.2,423.4 548.0,422.6 555.1,421.1 616.0,420.8 633.7,420.8 669.1,421.7 677.9,422.9 704.5,422.2 739.9,421.7 754.1,419.9 775.3,419.9 800,421 800,520 100,520 100,418" fill="#0b0b0b"/>
</g>
<g filter="url(#b05)">
<polygon points="481.3,229.1 491.3,228.6 492.6,231.4 482.5,232.0" fill="#202020"/>
<polygon points="511.4,229.1 527.7,228.6 526.4,231.4 512.6,231.7" fill="#202020"/>
<polygon points="583.0,296.3 600.5,296.9 603.1,300.1 583.0,300.4" fill="#202020"/>
<polygon points="206.3,300.7 209.4,297.6 212.5,300.7" fill="#0b0b0b"/>
<polygon points="472,310 475,309 474,312 472.5,312" fill="#4a4a4a"/>
<ellipse cx="197.5" cy="239.8" rx="1.8" ry="0.9" fill="#9f9f9f"/>
<ellipse cx="272.0" cy="271.8" rx="4" ry="1.3" fill="#b5b5b5"/>
<ellipse cx="294.2" cy="272.1" rx="2.5" ry="1.0" fill="#9f9f9f"/>
<ellipse cx="446.7" cy="243.3" rx="2.6" ry="1.2" fill="#9f9f9f"/>
<ellipse cx="518.3" cy="265.7" rx="4.0" ry="1.6" fill="#9f9f9f"/>
<ellipse cx="518.3" cy="265.7" rx="2.2" ry="1.1" fill="#dfdfdf"/>
<polygon points="746.3,340.5 748.7,337.2 749.3,341.0" fill="#4a4a4a"/>
<ellipse cx="718.7" cy="335.7" rx="8" ry="2.6" fill="#606060"/>
<ellipse cx="718.0" cy="335.7" rx="4.5" ry="1.1" fill="#353535"/>
<ellipse cx="636.0" cy="374.7" rx="3.5" ry="1.6" fill="#606060"/>
<ellipse cx="636.0" cy="374.7" rx="1.6" ry="0.8" fill="#4a4a4a"/>
<ellipse cx="178.0" cy="409.3" rx="5.5" ry="1.8" fill="#606060"/>
<ellipse cx="178.0" cy="409.3" rx="3.5" ry="0.9" fill="#353535"/>
<ellipse cx="493.2" cy="247.1" rx="1.4" ry="3.2" fill="#606060"/>
<ellipse cx="227.0" cy="416.6" rx="4.5" ry="1.6" fill="#9f9f9f"/>
<ellipse cx="227.0" cy="416.2" rx="2.6" ry="1.1" fill="#b5b5b5"/>
<ellipse cx="300.0" cy="418.2" rx="6" ry="1.3" fill="#9f9f9f"/>
<ellipse cx="400.5" cy="418.0" rx="13" ry="1.5" fill="#9f9f9f"/>
<ellipse cx="400.5" cy="416.5" rx="4" ry="1.6" fill="#dfdfdf"/>
<ellipse cx="400.5" cy="416.0" rx="2" ry="0.9" fill="#f4f4f4"/>
<ellipse cx="301.0" cy="418.8" rx="3" ry="1.0" fill="#9f9f9f"/>
<ellipse cx="461.0" cy="419.0" rx="3" ry="1.0" fill="#9f9f9f"/>
<ellipse cx="479.0" cy="419.0" rx="3" ry="1.0" fill="#9f9f9f"/>
<ellipse cx="605.0" cy="419.0" rx="3" ry="1.0" fill="#9f9f9f"/>
<ellipse cx="641.0" cy="419.0" rx="3" ry="1.0" fill="#9f9f9f"/>
<ellipse cx="301.0" cy="418.5" rx="4" ry="1.0" fill="#9f9f9f"/>
</g>
</g>
<g clip-path="url(#oc)"><g mask="url(#om)" fill="none" stroke="#000" stroke-width="2.4" stroke-linejoin="round"><use href="#yb"/><use href="#yh"/></g></g>
<polygon points="178.7,255.9 186.2,250.2 196.2,248.3 206.3,249.6 209.4,252.7 208.8,255.9 198.7,257.1 182.4,257.1" fill="none" stroke="#000" stroke-width="1.6" stroke-linejoin="round"/>
<polygon points="268.4,234.2 277.9,230.2 285.4,226.4 292.9,226.4 301.7,228.3 318.0,230.4 331.8,229.9 342.5,233.3 336.8,237.7 274.1,238.3" fill="none" stroke="#000" stroke-width="1.6" stroke-linejoin="round"/>
<polyline points="136.0,422.2 146.6,423.6 159.0,423.0 166.1,419.0 171.4,420.7 180.2,419.0 183.8,417.7 187.3,423.0 192.6,425.3 206.8,424.3 242.2,423.9 252.8,423.0 259.9,424.8 296.0,424.3 308.4,424.8 319.0,423.9 327.0,424.3" fill="none" stroke="#000" stroke-width="2.0" stroke-linejoin="round"/>
<polyline points="372.1,424.3 381.0,423.6 395.1,423.6 419.9,424.3 456.0,424.3 489.6,424.3 493.2,423.0 500.2,424.8 514.4,425.7 526.8,423.6 533.9,425.7 541.0,427.1 548.0,425.7 555.1,424.3 616.0,423.9 637.2,424.8 647.9,423.9 669.1,424.3 677.9,426.1 704.5,425.3 729.3,425.7 750.5,424.8 757.6,421.8 762.9,423.9 768.2,424.3" fill="none" stroke="#000" stroke-width="2.0" stroke-linejoin="round"/>
<polyline points="136.0,429.2 146.6,431.9 159.0,430.7 167.9,428.4 180.2,428.4 187.3,433.7 206.8,432.8 242.2,432.4 252.8,433.1 296.0,433.7 313.7,434.2 340.2,433.7 366.8,432.8 395.1,432.8 419.9,434.2 456.0,432.8 473.7,433.1 487.9,434.5 493.2,432.8 526.8,432.8 535.6,433.7 542.7,435.4 551.6,433.7 616.0,433.1 637.2,434.2 660.2,433.1 674.4,434.5 695.6,433.7 729.3,434.2 750.5,434.2 761.1,432.8 768.2,432.8" fill="none" stroke="#000" stroke-width="1.25" stroke-linejoin="round"/>
<polyline points="136.0,443.0 146.6,444.3 162.5,446.1 189.1,445.2 212.1,443.4 235.1,445.5 259.9,446.1 277.6,444.3 296.0,444.8 310.2,446.1 319.0,445.5 331.4,444.3 366.8,444.3 411.0,444.8 419.9,444.3 456.0,444.3 473.7,445.5 489.6,445.2 493.2,444.3 522.4,444.8" fill="none" stroke="#000" stroke-width="2.0" stroke-linejoin="round"/>
<polyline points="569.3,444.8 583.4,444.3 616.0,444.3 626.6,444.3 637.2,446.1 654.9,445.5 665.6,446.6 676.2,446.1 690.3,444.3 715.1,444.3 722.2,445.2 768.2,444.8" fill="none" stroke="#000" stroke-width="2.0" stroke-linejoin="round"/>
<polyline points="136.0,466.4 277.6,466.4 282.9,464.3 288.2,465.9 296.0,466.4 349.1,466.1 384.5,465.0 419.9,465.5 456.0,465.5 535.6,465.7 616.0,466.1 642.5,465.5 695.6,466.1 739.9,465.0 768.2,465.5" fill="none" stroke="#000" stroke-width="1.25" stroke-linejoin="round"/>
<polyline points="454.5,259.2 463.0,259.2" fill="none" stroke="#000" stroke-width="1.6" stroke-linejoin="round"/>
<polyline points="573.0,212.2 579.0,212.2" fill="none" stroke="#000" stroke-width="1.6" stroke-linejoin="round"/>
<polyline points="573.5,247.6 575.5,247.6" fill="none" stroke="#000" stroke-width="1.6" stroke-linejoin="round"/>
<polyline points="589.5,236.3 590.8,236.3" fill="none" stroke="#000" stroke-width="1.6" stroke-linejoin="round"/>
<polyline points="597.5,237.0 603.7,237.0" fill="none" stroke="#000" stroke-width="1.6" stroke-linejoin="round"/>
<polyline points="605.6,239.9 613.7,239.9" fill="none" stroke="#000" stroke-width="1.6" stroke-linejoin="round"/>
<polyline points="232.5,274.8 235.5,274.8" fill="none" stroke="#000" stroke-width="1.6" stroke-linejoin="round"/>
<polyline points="141.0,282.0 146.7,282.0" fill="none" stroke="#000" stroke-width="1.6" stroke-linejoin="round"/>
<polyline points="426.3,327.3 429.5,327.3" fill="none" stroke="#000" stroke-width="1.6" stroke-linejoin="round"/>
<polyline points="743.6,248.0 743.6,250.0" fill="none" stroke="#000" stroke-width="1.6" stroke-linejoin="round"/>
<polyline points="753.5,251.0 755.8,253.5" fill="none" stroke="#000" stroke-width="1.6" stroke-linejoin="round"/>
<polyline points="616.2,328.8 616.2,334.7" fill="none" stroke="#000" stroke-width="1.6" stroke-linejoin="round"/>
<polyline points="630.8,390.0 630.8,397.0" fill="none" stroke="#000" stroke-width="1.6" stroke-linejoin="round"/>
<polyline points="213.0,380.5 213.0,384.7" fill="none" stroke="#000" stroke-width="1.6" stroke-linejoin="round"/>
<polyline points="345.2,380.5 345.2,384.7" fill="none" stroke="#000" stroke-width="1.6" stroke-linejoin="round"/>
<polyline points="595.0,385.5 595.0,389.7" fill="none" stroke="#000" stroke-width="1.6" stroke-linejoin="round"/>
<polyline points="513.5,407.0 513.5,409.7" fill="none" stroke="#000" stroke-width="1.6" stroke-linejoin="round"/>
<polygon points="436.9,326.6 447.8,326.6 447.8,330.5 436.9,330.5" fill="none" stroke="#000" stroke-width="1.2" stroke-linejoin="round"/>
<polyline points="136,182.9 208,182.9 209,182.2 253,182.2 254,181.5 335,181.5" fill="none" stroke="#000" stroke-width="2.0" stroke-linejoin="round"/>
<polyline points="383,182.9 497,182.9 499,182.2 660,182.2 662,182.9 733,182.9 735,182.2 768,182.2" fill="none" stroke="#000" stroke-width="2.0" stroke-linejoin="round"/>
</g>
<text x="339.9" y="187.9" font-size="18.8" textLength="38.5" lengthAdjust="spacing" stroke="#000" stroke-width="0.55">0.80</text>
<text x="331.1" y="429.7" font-size="18" textLength="36.2" lengthAdjust="spacing" stroke="#000" stroke-width="0.55">0.80</text>
<text x="526.8" y="450.6" font-size="19" textLength="37.2" lengthAdjust="spacing" stroke="#000" stroke-width="0.55">0.40</text>
<rect x="136" y="157" width="632" height="316" fill="none" stroke="#000" stroke-width="2"/>
<path d="M184 158v9M184 472v-9M235 158v9M235 472v-9M286 158v9M286 472v-9M337 158v9M337 472v-9M388 158v9M388 472v-9M439 158v9M439 472v-9M490 158v9M490 472v-9M541 158v9M541 472v-9M592 158v9M592 472v-9M643 158v9M643 472v-9M694 158v9M694 472v-9M745 158v9M745 472v-9M137 395h9M767 395h-9M137 315h9M767 315h-9M137 235h9M767 235h-9" stroke="#000" stroke-width="2" fill="none"/>
<path d="M159.5 158v4M159.5 472v-4M210.5 158v4M210.5 472v-4M261.5 158v4M261.5 472v-4M312.5 158v4M312.5 472v-4M363.5 158v4M363.5 472v-4M414.5 158v4M414.5 472v-4M465.5 158v4M465.5 472v-4M516.5 158v4M516.5 472v-4M567.5 158v4M567.5 472v-4M618.5 158v4M618.5 472v-4M669.5 158v4M669.5 472v-4M720.5 158v4M720.5 472v-4M137 459.5h4M767 459.5h-4M137 443.5h4M767 443.5h-4M137 427.5h4M767 427.5h-4M137 411.5h4M767 411.5h-4M137 379.5h4M767 379.5h-4M137 363.5h4M767 363.5h-4M137 347.5h4M767 347.5h-4M137 331.5h4M767 331.5h-4M137 299.5h4M767 299.5h-4M137 283.5h4M767 283.5h-4M137 267.5h4M767 267.5h-4M137 251.5h4M767 251.5h-4M137 219.5h4M767 219.5h-4M137 203.5h4M767 203.5h-4M137 187.5h4M767 187.5h-4M137 171.5h4M767 171.5h-4" stroke="#000" stroke-width="1.1" fill="none"/>
<text x="335.5" y="112.3" font-size="28.5" textLength="233" lengthAdjust="spacing" stroke="#fff" stroke-width="0.5">Saturation Ratio</text>
<text x="47.5" y="134.2" font-size="16.7" textLength="96" lengthAdjust="spacing" stroke="#000" stroke-width="0.25">(×1000 m)</text>
<text x="778.2" y="168.6" font-size="15.8" textLength="98" lengthAdjust="spacing" stroke="#fff" stroke-width="0.15">t=133200 s</text>
<text x="379" y="546.3" font-size="21.5" textLength="146" lengthAdjust="spacing" stroke="#fff" stroke-width="0.3">X coordinate</text>
<text transform="translate(91,388) rotate(-90)" font-size="21.5" textLength="145.5" lengthAdjust="spacing" stroke="#fff" stroke-width="0.3">Z coordinate</text>
<text x="305.3" y="592.3" font-size="18" textLength="291" lengthAdjust="spacing" stroke="#fff" stroke-width="0.2">CONTOUR INTERVAL = 2.000E-01</text>
<text x="685" y="517" font-size="16.7" textLength="96" lengthAdjust="spacing" stroke="#000" stroke-width="0.25">(×1000 m)</text>
<text x="184.0" y="494.0" font-size="17.0" text-anchor="middle" stroke="#000" stroke-width="0.5">4</text>
<text x="235.0" y="494.0" font-size="17.0" text-anchor="middle" stroke="#000" stroke-width="0.5">8</text>
<text x="286.0" y="494.0" font-size="17.0" text-anchor="middle" textLength="20" lengthAdjust="spacing" stroke="#000" stroke-width="0.5">12</text>
<text x="337.0" y="494.0" font-size="17.0" text-anchor="middle" textLength="20" lengthAdjust="spacing" stroke="#000" stroke-width="0.5">16</text>
<text x="388.0" y="494.0" font-size="17.0" text-anchor="middle" textLength="20" lengthAdjust="spacing" stroke="#000" stroke-width="0.5">20</text>
<text x="439.0" y="494.0" font-size="17.0" text-anchor="middle" textLength="20" lengthAdjust="spacing" stroke="#000" stroke-width="0.5">24</text>
<text x="490.0" y="494.0" font-size="17.0" text-anchor="middle" textLength="20" lengthAdjust="spacing" stroke="#000" stroke-width="0.5">28</text>
<text x="541.0" y="494.0" font-size="17.0" text-anchor="middle" textLength="20" lengthAdjust="spacing" stroke="#000" stroke-width="0.5">32</text>
<text x="592.0" y="494.0" font-size="17.0" text-anchor="middle" textLength="20" lengthAdjust="spacing" stroke="#000" stroke-width="0.5">36</text>
<text x="643.0" y="494.0" font-size="17.0" text-anchor="middle" textLength="20" lengthAdjust="spacing" stroke="#000" stroke-width="0.5">40</text>
<text x="694.0" y="494.0" font-size="17.0" text-anchor="middle" textLength="20" lengthAdjust="spacing" stroke="#000" stroke-width="0.5">44</text>
<text x="745.0" y="494.0" font-size="17.0" text-anchor="middle" textLength="20" lengthAdjust="spacing" stroke="#000" stroke-width="0.5">48</text>
<text x="126.5" y="400.6" font-size="16.7" text-anchor="end" stroke="#000" stroke-width="0.5">5</text>
<text x="126.5" y="320.6" font-size="16.7" text-anchor="end" textLength="20" lengthAdjust="spacing" stroke="#000" stroke-width="0.5">10</text>
<text x="126.5" y="240.6" font-size="16.7" text-anchor="end" textLength="20" lengthAdjust="spacing" stroke="#000" stroke-width="0.5">15</text>
<rect x="784" y="450.4" width="18" height="22.6" fill="#3200aa" stroke="#000" stroke-width="2"/>
<rect x="784" y="427.8" width="18" height="22.6" fill="#0000aa" stroke="#000" stroke-width="2"/>
<rect x="784" y="405.2" width="18" height="22.6" fill="#0055ff" stroke="#000" stroke-width="2"/>
<rect x="784" y="382.6" width="18" height="22.6" fill="#00ffff" stroke="#000" stroke-width="2"/>
<rect x="784" y="360.0" width="18" height="22.6" fill="#00ff82" stroke="#000" stroke-width="2"/>
<rect x="784" y="337.4" width="18" height="22.6" fill="#82ff00" stroke="#000" stroke-width="2"/>
<rect x="784" y="314.8" width="18" height="22.6" fill="#ffff00" stroke="#000" stroke-width="2"/>
<rect x="784" y="292.2" width="18" height="22.6" fill="#ffaa00" stroke="#000" stroke-width="2"/>
<rect x="784" y="269.6" width="18" height="22.6" fill="#ff5500" stroke="#000" stroke-width="2"/>
<rect x="784" y="247.0" width="18" height="22.6" fill="#ff2020" stroke="#000" stroke-width="2"/>
<polygon points="784,247 793,207.5 802,247" fill="#ffaaaa" stroke="#000" stroke-width="2" stroke-linejoin="miter"/>
<polygon points="784,473 793,513.5 802,473" fill="#8200aa" stroke="#000" stroke-width="2" stroke-linejoin="miter"/>
<text x="811.5" y="456.2" font-size="16" textLength="33.5" lengthAdjust="spacing" stroke="#000" stroke-width="0.45">0.92</text>
<text x="811.5" y="411.0" font-size="16" textLength="33.5" lengthAdjust="spacing" stroke="#000" stroke-width="0.45">0.96</text>
<text x="811.5" y="365.8" font-size="16" stroke="#000" stroke-width="0.45">1</text>
<text x="811.5" y="320.6" font-size="16" textLength="33.5" lengthAdjust="spacing" stroke="#000" stroke-width="0.45">1.04</text>
<text x="811.5" y="275.4" font-size="16" textLength="33.5" lengthAdjust="spacing" stroke="#000" stroke-width="0.45">1.08</text>
</svg></body></html>
